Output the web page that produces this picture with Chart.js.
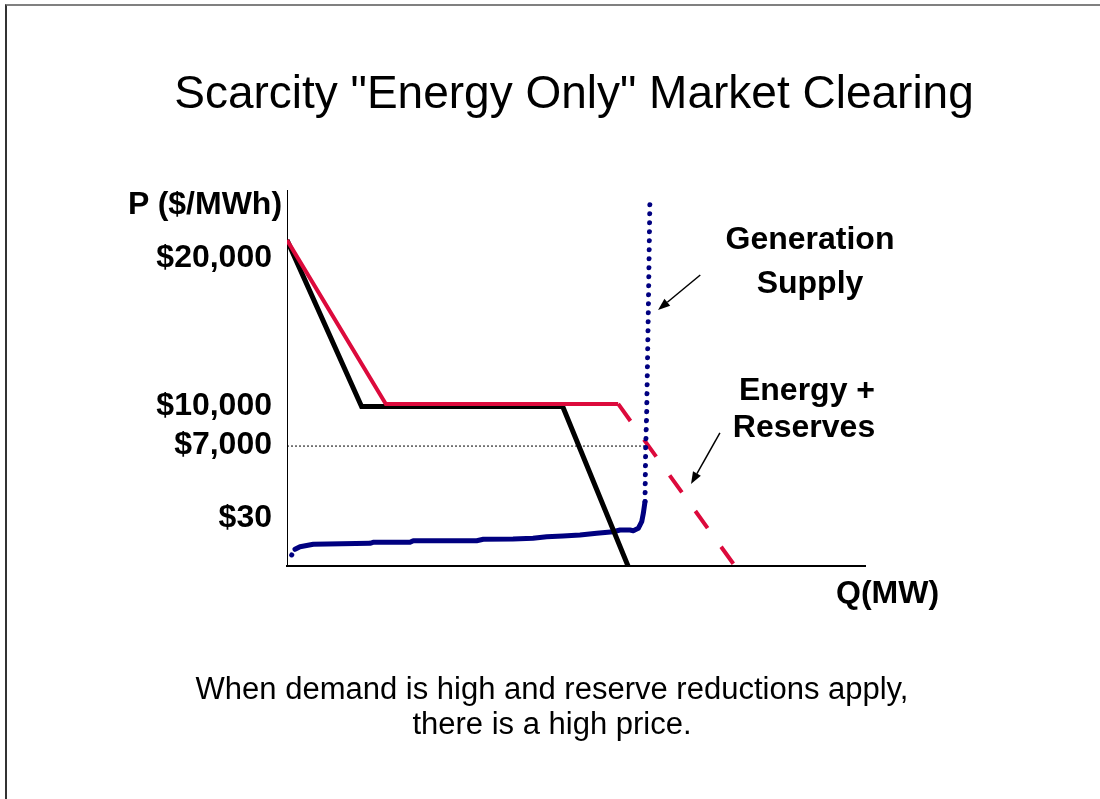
<!DOCTYPE html>
<html>
<head>
<meta charset="utf-8">
<script src="https://cdn.jsdelivr.net/npm/chart.js@4.4.1/dist/chart.umd.min.js"></script>
<style>
  html, body { margin: 0; padding: 0; background: #fff; }
  #wrap { position: relative; width: 1100px; height: 799px; overflow: hidden; font-family: "Liberation Sans", Arial, sans-serif; }
  #frame { position: absolute; left: 5px; top: 4px; width: 1200px; height: 900px; border-top: 2px solid #808080; border-left: 2px solid #333; }
  canvas { position: absolute; left: 0; top: 0; }
  .txt { position: absolute; line-height: 1; white-space: nowrap; color: #000; }
  .c { transform: translateX(-50%); }
  .b { font-weight: bold; font-size: 32px; }
</style>
</head>
<body>
<div id="wrap">
  <div id="frame"></div>
  <canvas id="chart" width="1100" height="799"></canvas>
  <div class="txt c" style="left:574px; top:69px; font-size:46px;">Scarcity "Energy Only" Market Clearing</div>
  <div class="txt b" style="left:128px; top:187px;">P ($/MWh)</div>
  <div class="txt b" style="left:836px; top:576px;">Q(MW)</div>
  <div class="txt b c" style="left:810px; top:222px;">Generation</div>
  <div class="txt b c" style="left:810px; top:266px;">Supply</div>
  <div class="txt b c" style="left:807px; top:373px;">Energy +</div>
  <div class="txt b c" style="left:804px; top:410px;">Reserves</div>
  <div class="txt c" style="left:552px; top:673px; font-size:31px;">When demand is high and reserve reductions apply,</div>
  <div class="txt c" style="left:552px; top:708px; font-size:31px;">there is a high price.</div>
</div>
<script>
// schematic units: Q and P both run 0..100 across the plot box
const demandQ = [0, 12.9, 47.7, 59.0];
const demandP = [86.7, 42.4, 42.4, 0];

const reservesQ = [0, 17.1, 57.3, 77.5];
const reservesP = [86.7, 43.1, 43.1, 0];

const supplyQ = [1.38, 2.25, 4.55, 14.36, 14.88, 21.28, 21.85, 32.82, 33.96, 39.10, 42.56, 44.93,
                 47.75, 50.69, 53.58, 56.45, 57.61, 59.34, 59.91, 60.78, 61.37, 61.65, 61.94];
const supplyP = [4.44, 5.13, 5.77, 6.04, 6.30, 6.30, 6.73, 6.73, 7.10, 7.18, 7.37, 7.79,
                 7.98, 8.24, 8.70, 9.12, 9.57, 9.57, 9.39, 10.03, 11.78, 14.02, 17.10];

const spikeQ = [61.94, 62.06, 62.23, 62.51, 62.80];
const spikeP = [17.10, 31.7, 40.7, 67.3, 98.4];

const startQ = [0.81, 1.38];
const startP = [2.93, 4.44];

const clearQ = [0, 62.1];
const clearP = [31.9, 31.9];

const priceTicks = [82.0, 42.55, 32.2, 12.8];
const priceLabels = ["$20,000", "$10,000", "$7,000", "$30"];

// label arrows: [fromQ, fromP, toQ, toP]
const arrows = [
  [71.5, 77.4, 64.2, 68.1],
  [74.9, 35.4, 69.9, 21.8]
];

function pts(xs, ys) {
  return xs.map((x, i) => ({ x: x, y: ys[i] }));
}

const arrowPlugin = {
  id: "arrows",
  afterDatasetsDraw(chart) {
    const ctx = chart.ctx;
    const xs = chart.scales.x, ys = chart.scales.y;
    ctx.save();
    ctx.strokeStyle = "#000";
    ctx.fillStyle = "#000";
    ctx.lineWidth = 1.5;
    arrows.forEach(a => {
      let x1 = xs.getPixelForValue(a[0]), y1 = ys.getPixelForValue(a[1]);
      let x2 = xs.getPixelForValue(a[2]), y2 = ys.getPixelForValue(a[3]);
      let ang = Math.atan2(y2 - y1, x2 - x1);
      let len = 12, half = 4.5;
      let bx = x2 - len * Math.cos(ang), by = y2 - len * Math.sin(ang);
      ctx.beginPath();
      ctx.moveTo(x1, y1);
      ctx.lineTo(bx, by);
      ctx.stroke();
      ctx.beginPath();
      ctx.moveTo(x2, y2);
      ctx.lineTo(bx + half * Math.sin(ang), by - half * Math.cos(ang));
      ctx.lineTo(bx - half * Math.sin(ang), by + half * Math.cos(ang));
      ctx.closePath();
      ctx.fill();
    });
    ctx.restore();
  }
};

const font = { family: "'Liberation Sans', Arial, sans-serif", size: 32, weight: "bold" };

new Chart(document.getElementById("chart"), {
  type: "scatter",
  data: {
    datasets: [
      {
        data: pts(spikeQ, spikeP),
        showLine: true, borderColor: "#000080", borderWidth: 5,
        borderDash: [0.1, 8.9], borderCapStyle: "round", pointRadius: 0, order: 0
      },
      {
        data: pts(startQ, startP),
        showLine: true, borderColor: "#000080", borderWidth: 5,
        borderDash: [0.1, 8.9], borderCapStyle: "round", pointRadius: 0, order: 0
      },
      {
        data: pts(reservesQ, reservesP),
        showLine: true, borderColor: "#DC0A3C", borderWidth: 4, pointRadius: 0,
        borderCapStyle: "butt", order: 1,
        segment: { borderDash: c => c.p0DataIndex === 2 ? [21, 23] : undefined }
      },
      {
        data: pts(demandQ, demandP),
        showLine: true, borderColor: "#000", borderWidth: 5, pointRadius: 0, order: 2
      },
      {
        data: pts(supplyQ, supplyP),
        showLine: true, borderColor: "#000080", borderWidth: 5, pointRadius: 0,
        borderCapStyle: "round", borderJoinStyle: "round", order: 3
      },
      {
        data: pts(clearQ, clearP),
        showLine: true, borderColor: "#000", borderWidth: 1, borderDash: [2, 2], pointRadius: 0, order: 4
      }
    ]
  },
  options: {
    responsive: false,
    animation: false,
    events: [],
    devicePixelRatio: 1,
    layout: { padding: { left: 0, top: 190, right: 235, bottom: 0 } },
    plugins: { legend: { display: false }, tooltip: { enabled: false } },
    scales: {
      x: {
        type: "linear", min: 0, max: 100,
        grid: { display: false, drawTicks: false },
        border: { display: true, color: "#000", width: 2 },
        ticks: { display: false },
        afterFit: s => { s.height = 233; }
      },
      y: {
        type: "linear", min: 0, max: 100,
        grid: { display: false, drawTicks: false },
        border: { display: true, color: "#000", width: 1 },
        afterBuildTicks: s => { s.ticks = priceTicks.map(v => ({ value: v })); },
        ticks: {
          color: "#000", font: font, padding: 15,
          callback: (v, i) => priceLabels[i]
        },
        afterFit: s => { s.width = 287; }
      }
    }
  },
  plugins: [arrowPlugin]
});
</script>
</body>
</html>
